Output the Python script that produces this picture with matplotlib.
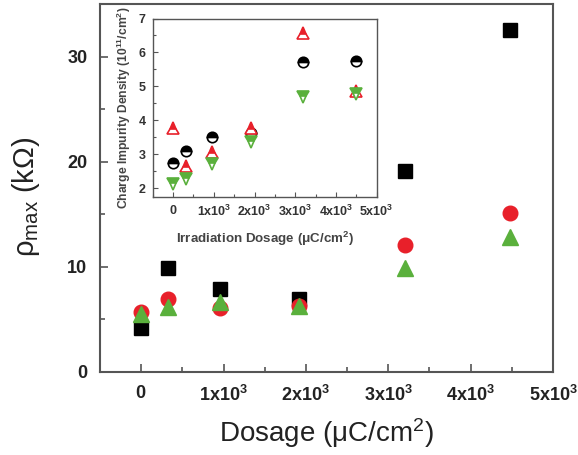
import matplotlib
matplotlib.use("Agg")
import matplotlib.pyplot as plt
from matplotlib.ticker import MultipleLocator, FixedLocator, FixedFormatter

plt.rcParams['font.family'] = ['Liberation Sans', 'DejaVu Sans']
plt.rcParams['mathtext.fontset'] = 'custom'
plt.rcParams['mathtext.rm'] = 'Liberation Sans'
plt.rcParams['mathtext.it'] = 'Liberation Sans:italic'
plt.rcParams['mathtext.bf'] = 'Liberation Sans:bold'

# Main data: dosage (uC/cm^2) vs rho_max (kOhm)
dosage = [0, 320, 960, 1920, 3200, 4480]
rho_square = [4.2, 9.9, 7.9, 6.9, 19.1, 32.5]
rho_circle = [5.7, 6.9, 6.05, 6.3, 12.1, 15.1]
rho_triangle = [5.5, 6.15, 6.7, 6.3, 9.9, 12.8]

# Inset data: charge impurity density (1e11 /cm^2)
inset_circle = [2.74, 3.11, 3.52, 3.62, 5.73, 5.75]
inset_up = [3.76, 2.66, 3.08, 3.76, 6.56, 4.85]
inset_down = [2.11, 2.26, 2.71, 3.37, 4.70, 4.78]

xtick_vals = [0, 1000, 2000, 3000, 4000, 5000]
xtick_labels = [r'$\mathbf{0}$', r'$\mathbf{1x10^3}$', r'$\mathbf{2x10^3}$',
                r'$\mathbf{3x10^3}$', r'$\mathbf{4x10^3}$', r'$\mathbf{5x10^3}$']

RED = '#e8202a'
GREEN = '#5ab03c'
SPINE = '#555555'
TXT = '#222222'

fig = plt.figure(figsize=(5.78, 4.55), dpi=100)
ax = fig.add_axes([100/578, 1-372/455, (553-100)/578, (372-4)/455])

ax.plot(dosage, rho_square, 's', color='black', ms=9.5, mec='black', zorder=3)
ax.plot(dosage, rho_circle, 'o', color=RED, ms=10.5, mec=RED, zorder=4)
ax.plot(dosage, rho_triangle, '^', color=GREEN, ms=11.5, mec=GREEN, zorder=5)

ax.set_xlim(-500, 5000)
ax.set_ylim(0, 35)
ax.xaxis.set_major_locator(FixedLocator(xtick_vals))
ax.xaxis.set_major_formatter(FixedFormatter(xtick_labels))
ax.xaxis.set_minor_locator(MultipleLocator(500))
ax.yaxis.set_major_locator(MultipleLocator(10))
ax.yaxis.set_minor_locator(MultipleLocator(5))
ax.tick_params(which='both', direction='in', color=SPINE, width=1.2, labelcolor=TXT)
ax.tick_params(which='major', length=6, labelsize=13, pad=9)
ax.tick_params(which='minor', length=3.5)
for lab in ax.get_yticklabels():
    lab.set_fontweight('bold')
for s in ax.spines.values():
    s.set_color(SPINE)
    s.set_linewidth(1.5)
ax.set_xlabel('Dosage (μC/cm$^2$)', fontsize=20, labelpad=8, color=TXT)
ax.set_ylabel('ρ$_{\\mathrm{max}}$ (kΩ)', fontsize=21, color=TXT)
ax.yaxis.set_label_coords(-0.128, 0.475)

# Inset
ins = fig.add_axes([152.7/578, 1-196.7/455, (376.7-152.7)/578, (196.7-18.5)/455])
ins.plot(dosage, inset_circle, 'o', ms=7.5, color='black', mec='black',
         fillstyle='top', markerfacecoloralt='white', mew=1.2, zorder=3)
ins.plot(dosage, inset_up, '^', ms=8, color=RED, mec=RED,
         fillstyle='top', markerfacecoloralt='white', mew=1.2, zorder=4)
ins.plot(dosage, inset_down, 'v', ms=8, color=GREEN, mec=GREEN,
         fillstyle='top', markerfacecoloralt='white', mew=1.2, zorder=5)
ins.set_xlim(-500, 5000)
ins.set_ylim(1.75, 7.0)
ins.xaxis.set_major_locator(FixedLocator(xtick_vals))
ins.xaxis.set_major_formatter(FixedFormatter(xtick_labels))
ins.xaxis.set_minor_locator(MultipleLocator(500))
ins.yaxis.set_major_locator(MultipleLocator(1))
ins.yaxis.set_minor_locator(MultipleLocator(0.5))
ins.tick_params(which='both', direction='in', color=SPINE, width=0.8, labelcolor='#333333')
ins.tick_params(which='major', length=3.5, labelsize=9, pad=5)
ins.tick_params(which='minor', length=2)
for lab in ins.get_yticklabels():
    lab.set_fontweight('bold')
for s in ins.spines.values():
    s.set_color(SPINE)
    s.set_linewidth(1.0)
ins.set_xlabel(r'Irradiation Dosage ($\mathbf{\mu}$C/cm$^\mathbf{2}$)', fontsize=9.6,
               fontweight='bold', color='#444444', labelpad=8)
ins.set_ylabel(r'Charge Impurity Density (10$^\mathbf{11}$/cm$^\mathbf{2}$)', fontsize=8.7,
               fontweight='bold', color='#444444', labelpad=4)

fig.savefig('out.png', dpi=100)
